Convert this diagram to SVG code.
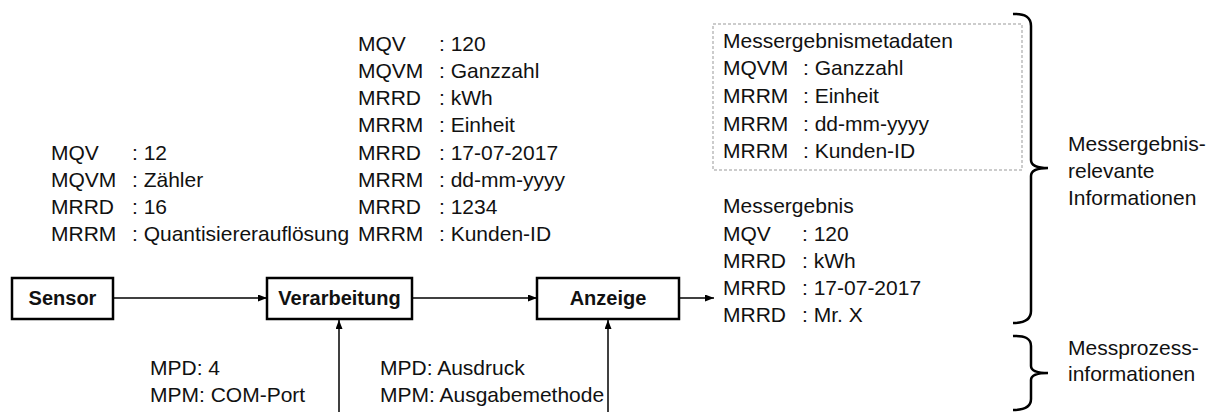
<svg xmlns="http://www.w3.org/2000/svg" width="1208" height="412" viewBox="0 0 1208 412">
<style>
text{font-family:"Liberation Sans",Arial,sans-serif;font-size:21px;fill:#111}
.b{font-weight:bold;font-size:20px;text-anchor:middle}
.box{fill:#fff;stroke:#000;stroke-width:2.5}
.con{stroke:#000;stroke-width:1.5;fill:none}
.brace{stroke:#000;stroke-width:2.5;fill:none}
</style>
<defs>
<marker id="ah" markerUnits="userSpaceOnUse" markerWidth="9" markerHeight="7" refX="9" refY="3.5" orient="auto">
<path d="M0,0 L9,3.5 L0,7 z" fill="#000"/>
</marker>
</defs>
<rect width="1208" height="412" fill="#fff"/>

<g id="connectors">
<line class="con" x1="113" y1="298" x2="267" y2="298" marker-end="url(#ah)"/>
<line class="con" x1="412" y1="298" x2="537" y2="298" marker-end="url(#ah)"/>
<line class="con" x1="679" y1="298" x2="714" y2="298" marker-end="url(#ah)"/>
<line class="con" x1="339" y1="412" x2="339" y2="320" marker-end="url(#ah)"/>
<line class="con" x1="608" y1="412" x2="608" y2="320" marker-end="url(#ah)"/>
</g>

<g id="sensor">
<rect class="box" x="12" y="278" width="101" height="41"/>
<text class="b" x="62.5" y="305">Sensor</text>
</g>
<g id="verarbeitung">
<rect class="box" x="267" y="278" width="145" height="41"/>
<text class="b" x="339.5" y="305">Verarbeitung</text>
</g>
<g id="anzeige">
<rect class="box" x="537" y="278" width="142" height="41"/>
<text class="b" x="608" y="305">Anzeige</text>
</g>

<g id="sensor-data">
<text x="51" y="160">MQV</text><text x="132" y="160">: 12</text>
<text x="51" y="187">MQVM</text><text x="132" y="187">: Zähler</text>
<text x="51" y="214">MRRD</text><text x="132" y="214">: 16</text>
<text x="51" y="241">MRRM</text><text x="132" y="241">: Quantisiererauflösung</text>
</g>

<g id="processing-data">
<text x="358" y="51">MQV</text><text x="439" y="51">: 120</text>
<text x="358" y="78">MQVM</text><text x="439" y="78">: Ganzzahl</text>
<text x="358" y="105">MRRD</text><text x="439" y="105">: kWh</text>
<text x="358" y="132">MRRM</text><text x="439" y="132">: Einheit</text>
<text x="358" y="160">MRRD</text><text x="439" y="160">: 17-07-2017</text>
<text x="358" y="187">MRRM</text><text x="439" y="187">: dd-mm-yyyy</text>
<text x="358" y="214">MRRD</text><text x="439" y="214">: 1234</text>
<text x="358" y="241">MRRM</text><text x="439" y="241">: Kunden-ID</text>
</g>

<g id="metadata">
<rect x="713" y="24" width="309" height="146" fill="none" stroke="#999" stroke-width="1" stroke-dasharray="3,2"/>
<text x="723" y="48">Messergebnismetadaten</text>
<text x="723" y="75">MQVM</text><text x="803" y="75">: Ganzzahl</text>
<text x="723" y="103">MRRM</text><text x="803" y="103">: Einheit</text>
<text x="723" y="131">MRRM</text><text x="803" y="131">: dd-mm-yyyy</text>
<text x="723" y="158">MRRM</text><text x="803" y="158">: Kunden-ID</text>
</g>

<g id="result">
<text x="723" y="213">Messergebnis</text>
<text x="723" y="241">MQV</text><text x="802" y="241">: 120</text>
<text x="723" y="268">MRRD</text><text x="802" y="268">: kWh</text>
<text x="723" y="295">MRRD</text><text x="802" y="295">: 17-07-2017</text>
<text x="723" y="322">MRRD</text><text x="802" y="322">: Mr. X</text>
</g>

<g id="process-params-1">
<text x="150" y="375">MPD: 4</text>
<text x="150" y="402">MPM: COM-Port</text>
</g>
<g id="process-params-2">
<text x="380" y="375">MPD: Ausdruck</text>
<text x="380" y="402">MPM: Ausgabemethode</text>
</g>

<g id="brace-relevant">
<path class="brace" d="M1013,14 Q1031,13 1031,26 L1031,160 Q1031,168 1048,168 Q1031,168 1031,176 L1031,311 Q1031,323 1013,323"/>
<text x="1068" y="151">Messergebnis-</text>
<text x="1068" y="178">relevante</text>
<text x="1068" y="205">Informationen</text>
</g>
<g id="brace-process">
<path class="brace" d="M1013,336 Q1031,335 1031,346 L1031,366 Q1031,373 1048,373 Q1031,373 1031,380 L1031,399 Q1031,410 1013,410"/>
<text x="1068" y="355">Messprozess-</text>
<text x="1068" y="381">informationen</text>
</g>
</svg>
